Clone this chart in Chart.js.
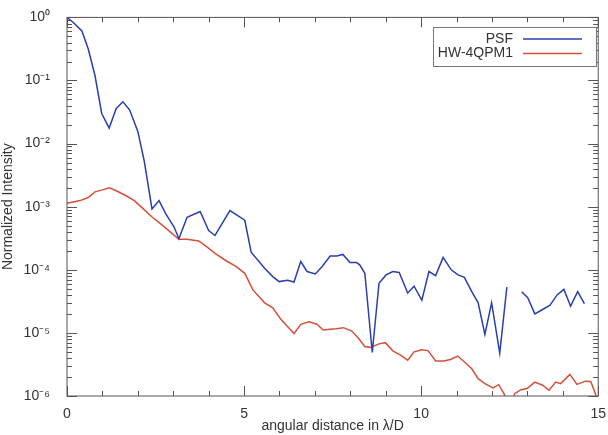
<!doctype html>
<html lang="en">
<head>
  <meta charset="utf-8">
  <title>PSF vs HW-4QPM1</title>
  <script src="https://cdn.jsdelivr.net/npm/chart.js"></script>
  <style>
    html, body { margin: 0; padding: 0; background: #fff; }
    #wrap { width: 608px; height: 435px; }
  </style>
</head>
<body>
<div id="wrap"><canvas id="myChart" width="608" height="435"></canvas></div>
<script>
// angular distance (lambda/D) and normalized intensity
const psfX = [0, 0.18, 0.42, 0.6, 0.79, 0.98, 1.19, 1.39, 1.58, 1.77, 2.0, 2.18, 2.4, 2.6, 2.79, 3.02,
  3.16, 3.39, 3.76, 4.0, 4.18, 4.6, 5.02, 5.2, 5.58, 5.81, 5.99, 6.23, 6.41, 6.6, 6.78, 7.01,
  7.2, 7.43, 7.62, 7.79, 7.99, 8.18, 8.27, 8.41, 8.62, 8.81, 9.01, 9.2, 9.38, 9.62, 9.8, 10.02,
  10.22, 10.41, 10.62, 10.85, 11.04, 11.22, 11.43, 11.61, 11.8, 11.99, 12.22, 12.42, 12.6,
  12.84, 13.01, 13.21, 13.43, 13.64, 13.84, 14.03, 14.22, 14.42, 14.61];
const psfY = [1.0, 0.83, 0.61, 0.315, 0.12, 0.030, 0.0176, 0.036, 0.046, 0.034, 0.0156, 0.0053, 0.00092, 0.00125, 0.00077, 0.00048,
  0.00031, 0.00068, 0.00084, 0.00042, 0.00035, 0.00087, 0.00061, 0.00019, 1.06e-4, 7.8e-5, 6.5e-5, 6.8e-5, 6.4e-5, 1.35e-4, 9.4e-5, 8.6e-5,
  1.12e-4, 1.65e-4, 1.65e-4, 1.75e-4, 1.3e-4, 1.3e-4, 1.19e-4, 8.8e-5, 4.9e-6, 6.1e-5, 8.3e-5, 9.4e-5, 9.1e-5, 4.3e-5, 5.5e-5, 3.3e-5,
  9.4e-5, 8.1e-5, 1.57e-4, 1.0e-4, 8.3e-5, 7.6e-5, 4.5e-5, 3.0e-5, 9.5e-6, 3.0e-5, 4.8e-6, 5.3e-5, null,
  4.5e-5, 3.6e-5, 2.0e-5, 2.35e-5, 2.75e-5, 4.0e-5, 4.9e-5, 2.65e-5, 4.5e-5, 2.9e-5];

const hwX = [0, 0.37, 0.6, 0.79, 0.98, 1.19, 1.39, 1.67, 1.9, 2.14, 2.41, 2.69, 3.16, 3.39, 3.72, 3.95,
  4.18, 4.46, 4.78, 5.02, 5.25, 5.58, 5.81, 6.04, 6.41, 6.6, 6.83, 7.06, 7.23, 7.43, 7.6, 7.81,
  8.04, 8.22, 8.41, 8.57, 8.81, 8.99, 9.2, 9.43, 9.62, 9.8, 10.02, 10.2, 10.41, 10.64, 10.83, 11.03,
  11.24, 11.43, 11.61, 11.8, 12.03, 12.19, 12.34, 12.5, 12.64, 12.82, 12.99, 13.21, 13.43, 13.61, 13.8,
  13.94, 14.2, 14.4, 14.64, 14.79, 14.92, 15.0];
const hwY = [1.13e-3, 1.25e-3, 1.4e-3, 1.72e-3, 1.83e-3, 2.0e-3, 1.79e-3, 1.49e-3, 1.25e-3, 9.4e-4, 6.8e-4, 5.1e-4, 3.05e-4, 3.05e-4, 2.87e-4, 2.31e-4,
  1.82e-4, 1.43e-4, 1.12e-4, 8.8e-5, 4.8e-5, 3.0e-5, 2.5e-5, 1.64e-5, 9.8e-6, 1.37e-5, 1.5e-5, 1.37e-5, 1.11e-5, 1.14e-5, 1.16e-5, 1.21e-5,
  1.07e-5, 8.4e-6, 6.1e-6, 5.9e-6, 6.7e-6, 7.0e-6, 5.2e-6, 4.4e-6, 3.7e-6, 5.0e-6, 5.4e-6, 5.2e-6, 3.6e-6, 3.6e-6, 3.8e-6, 4.3e-6,
  3.4e-6, 2.7e-6, 1.88e-6, 1.57e-6, 1.34e-6, 1.51e-6, 1.09e-6, 6e-7, 1.09e-6, 1.26e-6, 1.31e-6, 1.66e-6, 1.48e-6, 1.23e-6, 1.66e-6,
  1.57e-6, 2.2e-6, 1.53e-6, 1.72e-6, 1.7e-6, 1.09e-6, 6e-7];

const xMajor = [0, 5, 10, 15];
const supers = { '0': '⁰', '1': '¹', '2': '²', '3': '³', '4': '⁴', '5': '⁵', '6': '⁶', '-': '⁻' };

const FONT = '"Liberation Sans", Arial, sans-serif';
const AXIS = '#555';

function pts(xs, ys) { return xs.map((x, i) => ({ x: x, y: ys[i] })); }

// IDL style frame: box round the plot, ticks pointing inward on all four sides
const frame = {
  id: 'frame',
  afterDatasetsDraw(chart) {
    const { ctx, chartArea: a, scales: { x, y } } = chart;
    ctx.save();
    ctx.strokeStyle = AXIS;
    ctx.lineWidth = 1;
    ctx.strokeRect(a.left, a.top, a.right - a.left, a.bottom - a.top);
    ctx.beginPath();
    for (let v = 0; v <= 15; v++) {
      const px = Math.round(x.getPixelForValue(v)) + 0.5;
      const len = v % 5 === 0 ? 10 : 5;
      ctx.moveTo(px, a.bottom); ctx.lineTo(px, a.bottom - len);
      ctx.moveTo(px, a.top); ctx.lineTo(px, a.top + len);
    }
    for (let e = -6; e <= 0; e++) {
      for (let m = 1; m <= 9; m++) {
        const v = m * Math.pow(10, e);
        if (v > 1) break;
        const py = Math.round(y.getPixelForValue(v)) + 0.5;
        const len = m === 1 ? 10 : 5;
        ctx.moveTo(a.left, py); ctx.lineTo(a.left + len, py);
        ctx.moveTo(a.right, py); ctx.lineTo(a.right - len, py);
      }
    }
    ctx.stroke();
    ctx.restore();
  }
};

// legend box: label on the left, line sample on the right
const idlLegend = {
  id: 'idlLegend',
  afterDraw(chart) {
    const ctx = chart.ctx;
    const bx = 433, by = 27, bw = 163, bh = 39;
    ctx.save();
    ctx.fillStyle = '#fff';
    ctx.fillRect(bx, by, bw, bh);
    ctx.strokeStyle = '#777';
    ctx.lineWidth = 1;
    ctx.strokeRect(bx + 0.5, by + 0.5, bw, bh);
    ctx.font = '14px ' + FONT;
    ctx.textAlign = 'right';
    ctx.textBaseline = 'middle';
    chart.data.datasets.forEach((ds, i) => {
      const ly = 39 + i * 14.5;
      ctx.fillStyle = '#333';
      ctx.fillText(ds.label, 513, ly);
      ctx.strokeStyle = ds.borderColor;
      ctx.lineWidth = 1.5;
      ctx.beginPath();
      ctx.moveTo(523, ly); ctx.lineTo(582, ly);
      ctx.stroke();
    });
    ctx.restore();
  }
};

const ctx = document.getElementById('myChart').getContext('2d');
const myChart = new Chart(ctx, {
  type: 'line',
  data: {
    datasets: [{
      label: 'PSF',
      data: pts(psfX, psfY),
      borderColor: '#2a3fb0',
      borderWidth: 1.5,
      pointRadius: 0,
      spanGaps: false,
      tension: 0
    }, {
      label: 'HW-4QPM1',
      data: pts(hwX, hwY),
      borderColor: '#d4503a',
      borderWidth: 1.5,
      pointRadius: 0,
      tension: 0
    }]
  },
  options: {
    responsive: false,
    animation: false,
    layout: { padding: { top: 13, right: 3, left: 0, bottom: 0 } },
    plugins: { legend: { display: false }, tooltip: { enabled: false } },
    scales: {
      x: {
        type: 'linear',
        min: 0, max: 15,
        afterBuildTicks: s => { s.ticks = xMajor.map(v => ({ value: v })); },
        afterFit: s => { s.height = 39; },
        grid: { display: false },
        border: { display: false },
        ticks: { color: '#333', font: { family: FONT, size: 14 }, padding: 2, maxRotation: 0 },
        title: { display: true, text: 'angular distance in λ/D', color: '#333',
          font: { family: FONT, size: 14 }, padding: { top: 0, bottom: 0 } }
      },
      y: {
        type: 'logarithmic',
        min: 1e-6, max: 1,
        afterBuildTicks: s => {
          const t = [];
          for (let e = -6; e <= 0; e++) t.push({ value: Math.pow(10, e) });
          s.ticks = t;
        },
        afterFit: s => { s.width = 67; },
        grid: { display: false },
        border: { display: false },
        ticks: {
          color: '#333', font: { family: FONT, size: 14 }, padding: 9,
          callback: v => '10' + String(Math.round(Math.log10(v))).split('').map(c => supers[c]).join('')
        },
        title: { display: true, text: 'Normalized Intensity', color: '#333',
          font: { family: FONT, size: 14 }, padding: { top: 0, bottom: 4 } }
      }
    }
  },
  plugins: [frame, idlLegend]
});
</script>
</body>
</html>
